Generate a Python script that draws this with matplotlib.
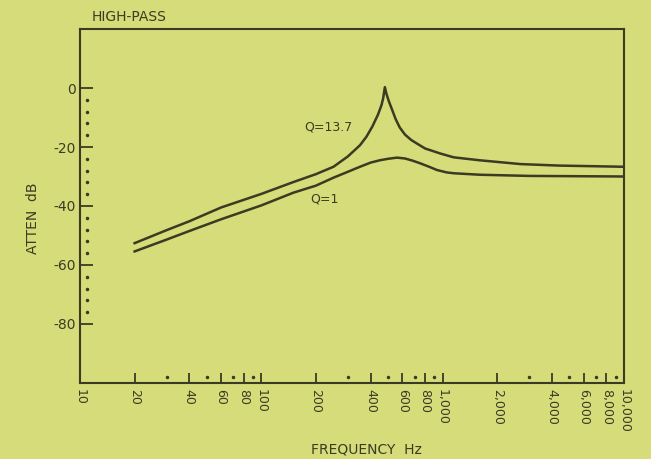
import matplotlib
matplotlib.use('Agg')
import matplotlib.pyplot as plt
import matplotlib.transforms as mtransforms

# colours
bg = '#d6dc7a'
ink = '#3a3b22'

# Q=13.7 curve (frequency Hz, attenuation dB)
f_q137 = [20, 30, 40, 60, 100, 150, 200, 250, 300, 350, 380, 410, 440, 460, 470, 480,
          490, 505, 525, 550, 580, 620, 670, 720, 800, 970, 1150, 1600, 2700, 4400, 10000]
db_q137 = [-52.6, -48.2, -45.2, -40.5, -35.9, -31.9, -29.2, -26.7, -23.2, -19.4, -16.5, -13.0, -9.0, -5.8, -3.4, 0.3,
           -2.0, -4.5, -7.2, -10.5, -13.4, -15.8, -17.6, -18.8, -20.5, -22.2, -23.5, -24.5, -25.8, -26.3, -26.7]

# Q=1 curve
f_q1 = [20, 30, 40, 60, 100, 150, 200, 250, 300, 350, 400, 450, 500, 560, 620, 680,
        750, 850, 930, 1050, 1150, 1600, 3000, 10000]
db_q1 = [-55.4, -51.4, -48.5, -44.5, -39.8, -35.5, -33.1, -30.4, -28.4, -26.7, -25.3, -24.5, -24.0, -23.6, -23.9, -24.6,
         -25.5, -26.8, -27.8, -28.6, -28.9, -29.4, -29.8, -30.0]

x_major = [10, 20, 40, 60, 80, 100, 200, 400, 600, 800, 1000, 2000, 4000, 6000, 8000, 10000]
x_labels = ['10', '20', '40', '60', '80', '100', '200', '400', '600', '800',
            '1,000', '2,000', '4,000', '6,000', '8,000', '10,000']
x_dots = [30, 50, 70, 90, 300, 500, 700, 900, 3000, 5000, 7000, 9000]
y_major = [-80, -60, -40, -20, 0]
y_dots = [v for v in range(-76, 0, 4) if v % 20 != 0]

plt.rcParams['font.family'] = ['DejaVu Sans']

fig = plt.figure(figsize=(6.51, 4.59), dpi=100)
fig.patch.set_facecolor(bg)
ax = fig.add_axes([0.1229, 0.1656, 0.8356, 0.7712])
ax.set_facecolor(bg)

ax.plot(f_q137, db_q137, color=ink, lw=1.8, solid_joinstyle='round')
ax.plot(f_q1, db_q1, color=ink, lw=1.8, solid_joinstyle='round')

ax.set_xscale('log')
ax.set_xlim(10, 10000)
ax.set_ylim(-100, 20)

ax.set_xticks(x_major)
ax.set_xticklabels(x_labels, rotation=270, fontsize=9, color=ink, va='top', ha='center')
ax.minorticks_off()
ax.set_yticks(y_major)
ax.set_yticklabels([str(v) for v in y_major], fontsize=10, color=ink)
ax.tick_params(axis='x', direction='in', length=7, width=1.3, color=ink, pad=4)
ax.tick_params(axis='y', direction='in', length=9, width=1.3, color=ink, pad=3)

for s in ax.spines.values():
    s.set_color(ink)
    s.set_linewidth(1.5)

# dotted minor marks
tx = mtransforms.blended_transform_factory(ax.transData, ax.transAxes)
ax.plot(x_dots, [0.018] * len(x_dots), ls='none', marker='o', ms=1.5, color=ink, transform=tx, clip_on=False)
ty = mtransforms.blended_transform_factory(ax.transAxes, ax.transData)
ax.plot([0.012] * len(y_dots), y_dots, ls='none', marker='o', ms=1.5, color=ink, transform=ty, clip_on=False)

ax.text(233, -13.2, 'Q=13.7', fontsize=9, color=ink, ha='center', va='center')
ax.text(224, -37.5, 'Q=1', fontsize=9, color=ink, ha='center', va='center')

fig.text(0.14, 0.963, 'HIGH-PASS', fontsize=10, color=ink, ha='left', va='center')
fig.text(0.563, 0.02, 'FREQUENCY  Hz', fontsize=10, color=ink, ha='center', va='center')
fig.text(0.05, 0.525, 'ATTEN  dB', fontsize=10, color=ink, ha='center', va='center', rotation=90)

fig.savefig('out.png', dpi=100, facecolor=bg)
